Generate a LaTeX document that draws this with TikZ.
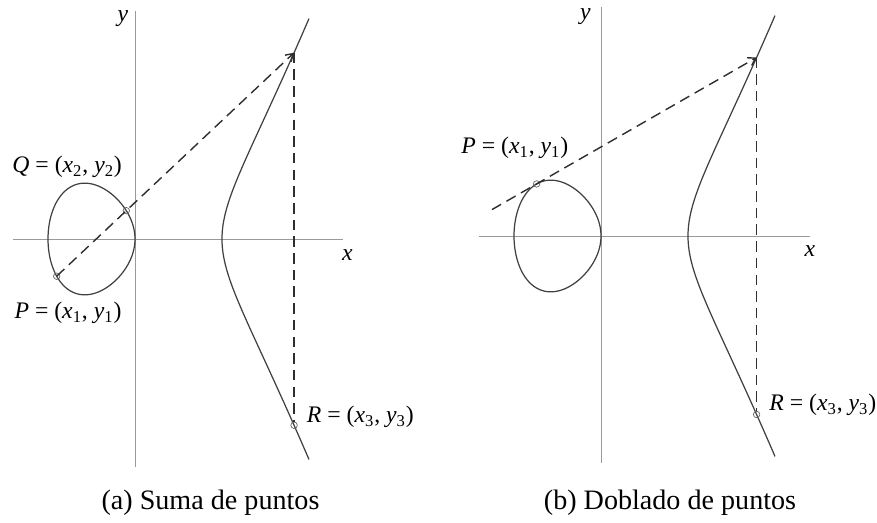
\documentclass[tikz,border=0pt]{standalone}
\usepackage{fontspec}
\setmainfont{Liberation Serif}
\usetikzlibrary{arrows.meta, calc}
\definecolor{axisgray}{HTML}{9A9A9A}
\definecolor{curvegray}{HTML}{404040}
\definecolor{dashgray}{HTML}{2E2E2E}
\newcommand{\ptlabel}[2]{\textit{#1} = (\textit{x}\textsubscript{#2}, \textit{y}\textsubscript{#2})}

\begin{document}
\begin{tikzpicture}[line width=0.6pt,
  axisline/.style={axisgray, line width=0.5pt},
  curveline/.style={curvegray, line width=0.7pt},
  dashline/.style={dashgray, line width=0.8pt, dash pattern=on 6pt off 3.5pt},
  ptmark/.style={circle, draw=curvegray!80, line width=0.4pt, inner sep=0pt,
                 minimum size=1.3mm},
  ptlbl/.style={font=\fontsize{13.5}{16}\selectfont, inner sep=1pt},
  axlbl/.style={font=\fontsize{13.5}{16}\selectfont\itshape, inner sep=1pt},
  captionlbl/.style={font=\fontsize{16}{19}\selectfont, inner sep=1pt},
  tip/.style={-{Straight Barb[length=1.4mm, width=1.8mm]}}
  ]

\useasboundingbox (0,0) rectangle (17.54,10.44);

% --- (a) Suma de puntos ---
\begin{scope}[shift={(2.70cm,5.66cm)}, x=1.74cm, y=1.8cm]
  % axes
  \draw[axisline] (-1.40,0) -- (2.39,0);
  \draw[axisline] (0,-2.53) -- (0,2.53);
  \node[axlbl] (xa) at (2.44,-0.18) {x};
  \node[axlbl] (ya) at (-0.14,2.45) {y};

  % curve y^2 = x^3 - x
  \draw[curveline] plot[domain=0:357, samples=120, smooth cycle]
    ({-0.5-0.5*cos(\x)}, {0.5*sin(\x)*sqrt(1.5+0.5*cos(\x))});
  \draw[curveline] plot[domain=-1:1, samples=80, smooth]
    ({1+\x*\x}, {\x*sqrt((1+\x*\x)*(2+\x*\x))});

  % points
  \node[ptmark] (P1) at (-0.9,-0.4135) {};
  \node[ptmark] (Q1) at (-0.1,0.3146) {};
  \coordinate (T1) at (1.8283,2.0696);
  \node[ptmark] (R1) at (1.8283,-2.0696) {};

  \draw[dashline, tip] (P1.center) -- (T1);
  \draw[dashline] (T1) -- (R1);

  \node[ptlbl] (lq1) at (-0.78,0.80) {\ptlabel{Q}{2}};
  \node[ptlbl] (lp1) at (-0.77,-0.82) {\ptlabel{P}{1}};
  \node[ptlbl, anchor=west] (lr1) at (1.95,-1.98) {\ptlabel{R}{3}};
\end{scope}

% --- (b) Doblado de puntos ---
\begin{scope}[shift={(12.02cm,5.72cm)}, x=1.74cm, y=1.8cm]
  % axes
  \draw[axisline] (-1.40,0) -- (2.40,0);
  \draw[axisline] (0,-2.52) -- (0,2.54);
  \node[axlbl] (xb) at (2.40,-0.17) {x};
  \node[axlbl] (yb) at (-0.18,2.44) {y};

  % curve y^2 = x^3 - x
  \draw[curveline] plot[domain=0:357, samples=120, smooth cycle]
    ({-0.5-0.5*cos(\x)}, {0.5*sin(\x)*sqrt(1.5+0.5*cos(\x))});
  \draw[curveline] plot[domain=-1:1, samples=80, smooth]
    ({1+\x*\x}, {\x*sqrt((1+\x*\x)*(2+\x*\x))});

  % points
  \coordinate (S2) at (-1.253,0.2936);
  \node[ptmark] (P2) at (-0.74,0.5786) {};
  \coordinate (T2) at (1.7886,1.9832);
  \node[ptmark] (R2) at (1.7886,-1.9832) {};

  \draw[dashline, tip] (S2) -- (T2);
  \draw[dashline] (T2) -- (R2);

  \node[ptlbl] (lp2) at (-0.99,0.98) {\ptlabel{P}{1}};
  \node[ptlbl, anchor=west] (lr2) at (1.91,-1.88) {\ptlabel{R}{3}};
\end{scope}

% captions
\node[captionlbl] (capa) at (4.21,0.38) {(a) Suma de puntos};
\node[captionlbl] (capb) at (13.40,0.38) {(b) Doblado de puntos};

\end{tikzpicture}
\end{document}
